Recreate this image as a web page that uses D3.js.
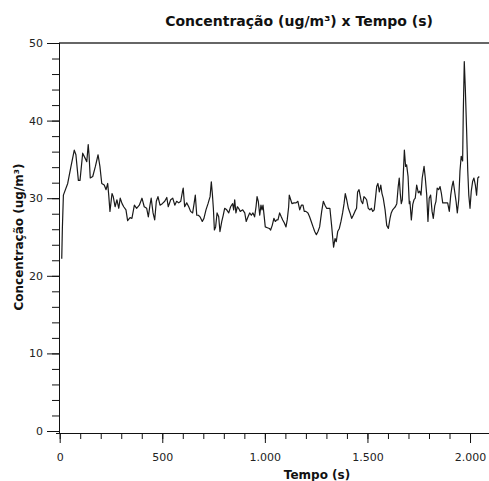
<!DOCTYPE html>
<html>
<head>
<meta charset="utf-8">
<script src="https://cdn.jsdelivr.net/npm/d3@7"></script>
<style>
  body { margin: 0; background: #fff; }
  text { font-family: "DejaVu Sans", Verdana, sans-serif; }
  .axis path, .axis line { stroke: #111; }
  .axis text { fill: #222; font-size: 11px; font-family: "DejaVu Sans", Verdana, sans-serif; }
</style>
</head>
<body>
<svg id="chart"></svg>
<script>
var width = 489,
  height = 481;

// tempo (s) e concentração (ug/m3)
var tempo = [10, 13, 18, 39, 55, 71, 79, 91, 99, 112, 125, 132, 139, 143, 149, 161, 174, 187, 196, 205,
  217, 226, 234, 239, 245, 255, 261, 270, 279, 288, 295, 304, 312, 323, 331, 343, 352, 364, 375, 388,
  401, 412, 424, 432, 440, 446, 455, 463, 471, 479, 489, 500, 512, 522, 529, 541, 551, 561, 570, 580,
  590, 598, 602, 609, 619, 629, 638, 648, 655, 661, 668, 676, 684, 695, 703, 713, 723, 733, 739, 744,
  749, 754, 760, 767, 775, 781, 790, 797, 804, 814, 824, 833, 843, 848, 853, 859, 866, 872, 880, 892,
  902, 909, 918, 926, 934, 942, 950, 957, 962, 968, 975, 981, 986, 991, 997, 1002, 1012, 1022, 1028, 1036,
  1044, 1051, 1058, 1064, 1072, 1080, 1087, 1095, 1103, 1109, 1116, 1119, 1126, 1132, 1142, 1152, 1161, 1170, 1178, 1186,
  1192, 1200, 1210, 1218, 1226, 1235, 1243, 1251, 1259, 1267, 1277, 1285, 1293, 1301, 1309, 1317, 1326, 1331, 1335, 1342,
  1348, 1355, 1363, 1371, 1379, 1386, 1392, 1399, 1407, 1415, 1423, 1431, 1439, 1447, 1452, 1459, 1464, 1470, 1477, 1483,
  1490, 1496, 1504, 1512, 1519, 1526, 1533, 1540, 1545, 1551, 1558, 1565, 1571, 1577, 1586, 1594, 1602, 1610, 1616, 1623,
  1629, 1636, 1643, 1650, 1655, 1660, 1665, 1670, 1675, 1680, 1686, 1691, 1698, 1704, 1707, 1714, 1721, 1727, 1733, 1740,
  1748, 1755, 1761, 1767, 1776, 1782, 1789, 1795, 1801, 1808, 1815, 1821, 1828, 1834, 1840, 1847, 1854, 1860, 1867, 1875,
  1883, 1891, 1899, 1906, 1912, 1918, 1925, 1932, 1938, 1945, 1951, 1957, 1964, 1967, 1972, 1977, 1984, 1989, 1994, 2000,
  2006, 2013, 2019, 2026, 2032, 2038, 2045];

var concentracao = [22.2, 26.1, 30.4, 31.9, 34.1, 36.2, 35.6, 32.3, 32.3, 35.8, 35.1, 34.7, 36.9, 35.6, 32.6, 32.8, 34.1, 35.6, 34.1, 31.9,
  31.7, 31.1, 31.9, 30.4, 28.3, 30.6, 30.2, 28.9, 29.8, 28.7, 30.0, 29.3, 28.9, 28.5, 27.1, 27.5, 27.4, 29.1, 28.7, 29.1,
  30.0, 28.9, 28.7, 27.6, 29.1, 30.0, 28.1, 27.2, 29.6, 30.2, 29.1, 29.3, 29.6, 30.1, 28.9, 29.8, 30.0, 29.1, 29.6, 29.4,
  29.6, 30.8, 31.3, 28.9, 29.4, 28.9, 28.3, 28.1, 29.3, 30.4, 27.8, 27.8, 27.6, 27.0, 27.4, 28.5, 29.3, 30.2, 32.1, 30.6,
  28.7, 25.9, 26.3, 28.1, 27.6, 25.7, 27.0, 27.8, 28.7, 28.5, 28.1, 28.9, 29.3, 28.5, 29.8, 28.1, 28.9, 28.7, 28.3, 28.5,
  28.1, 27.0, 27.6, 28.1, 27.8, 28.1, 27.6, 28.9, 30.2, 29.6, 27.8, 29.1, 28.5, 29.1, 27.6, 26.3, 26.2, 26.1, 25.9, 26.5,
  27.4, 27.0, 27.2, 27.2, 28.1, 27.6, 27.2, 26.8, 26.3, 27.2, 28.9, 30.4, 29.8, 29.3, 29.4, 29.4, 29.6, 28.5, 29.1, 29.1,
  28.3, 28.3, 28.1, 27.6, 27.0, 26.3, 25.7, 25.3, 25.7, 26.3, 28.3, 29.6, 29.1, 28.7, 28.7, 28.7, 26.3, 24.8, 23.7, 24.8,
  24.4, 25.7, 26.1, 27.0, 28.1, 29.3, 30.6, 29.8, 28.7, 28.1, 27.4, 27.8, 28.3, 28.7, 30.8, 31.1, 30.4, 29.6, 29.3, 30.2,
  30.0, 29.8, 28.7, 28.5, 28.7, 28.3, 28.5, 30.2, 31.5, 31.9, 30.8, 31.7, 30.6, 30.0, 28.5, 26.5, 26.1, 27.4, 28.1, 28.5,
  28.7, 28.9, 29.3, 31.5, 32.6, 30.6, 29.3, 29.8, 33.2, 36.2, 34.1, 34.3, 32.8, 29.3, 29.6, 27.2, 29.2, 29.8, 30.0, 31.7,
  30.7, 30.9, 30.4, 32.6, 34.1, 32.6, 30.4, 27.0, 30.0, 30.4, 28.3, 27.4, 29.0, 29.6, 31.3, 31.1, 31.5, 30.7, 29.4, 29.4,
  29.4, 29.4, 28.3, 30.4, 31.5, 32.2, 30.9, 29.6, 28.1, 29.8, 33.5, 35.4, 34.8, 40.8, 47.6, 44.2, 38.2, 33.5, 30.4, 28.7,
  30.9, 32.2, 32.6, 31.7, 30.4, 32.6, 32.8];

var xTicks = [0, 500, 1000, 1500, 2000];
var yTicks = [0, 10, 20, 30, 40, 50];

var titulo = 'Concentração (ug/m³) x Tempo (s)',
  rotuloX = 'Tempo (s)',
  rotuloY = 'Concentração (ug/m³)';

var ptBR = d3.formatLocale({ decimal: ',', thousands: '.', grouping: [3], currency: ['R$', ''] });

// the plot continues past the right edge of the picture (cropped)
var x = d3.scaleLinear()
  .domain([0, 2500])
  .range([59.7, 572.6]);

var y = d3.scaleLinear()
  .domain([0, 50])
  .range([431, 43]);

var svg = d3.select('#chart')
  .attr('width', width)
  .attr('height', height);

// title
svg.append('text')
  .attr('x', 299)
  .attr('y', 26)
  .attr('text-anchor', 'middle')
  .attr('font-size', 14)
  .attr('font-weight', 'bold')
  .attr('fill', '#111')
  .text(titulo);

// top frame line
svg.append('line')
  .attr('x1', 59)
  .attr('x2', width)
  .attr('y1', 43)
  .attr('y2', 43)
  .attr('stroke', '#666')
  .attr('stroke-width', 2);

// y axis: minor then major ticks
svg.append('g')
  .attr('class', 'axis')
  .attr('transform', 'translate(59,0)')
  .call(d3.axisLeft(y)
    .tickValues(d3.range(0, 51, 2))
    .tickSize(7)
    .tickSizeOuter(0)
    .tickFormat(''));

svg.append('g')
  .attr('class', 'axis')
  .attr('transform', 'translate(59,0)')
  .call(d3.axisLeft(y)
    .tickValues(yTicks)
    .tickSize(12)
    .tickSizeOuter(0)
    .tickPadding(4))
  .select('.domain')
  .attr('d', 'M0.5,' + y(50) + 'V' + 433);

// x axis
var gx = svg.append('g')
  .attr('class', 'axis')
  .attr('transform', 'translate(0,433)');

gx.call(d3.axisBottom(x)
  .tickValues(d3.range(0, 2101, 100))
  .tickSize(6)
  .tickSizeOuter(0)
  .tickFormat(''));

gx.append('g')
  .call(d3.axisBottom(x)
    .tickValues(xTicks)
    .tickSize(10)
    .tickSizeOuter(0)
    .tickPadding(10)
    .tickFormat(ptBR.format(',d')))
  .select('.domain')
  .remove();

gx.select('.domain')
  .attr('d', 'M56,0.5H' + width);

// axis titles
svg.append('text')
  .attr('x', 317)
  .attr('y', 479)
  .attr('text-anchor', 'middle')
  .attr('font-size', 12)
  .attr('font-weight', 'bold')
  .attr('fill', '#111')
  .text(rotuloX);

svg.append('text')
  .attr('transform', 'translate(23,237) rotate(-90)')
  .attr('text-anchor', 'middle')
  .attr('font-size', 12)
  .attr('font-weight', 'bold')
  .attr('fill', '#111')
  .text(rotuloY);

// series line
var line = d3.line()
  .x(function(d) { return x(d[0]); })
  .y(function(d) { return y(d[1]); });

svg.append('path')
  .datum(d3.zip(tempo, concentracao))
  .attr('fill', 'none')
  .attr('stroke', '#1a1a1a')
  .attr('stroke-width', 1.2)
  .attr('stroke-linejoin', 'round')
  .attr('d', line);
</script>
</body>
</html>
